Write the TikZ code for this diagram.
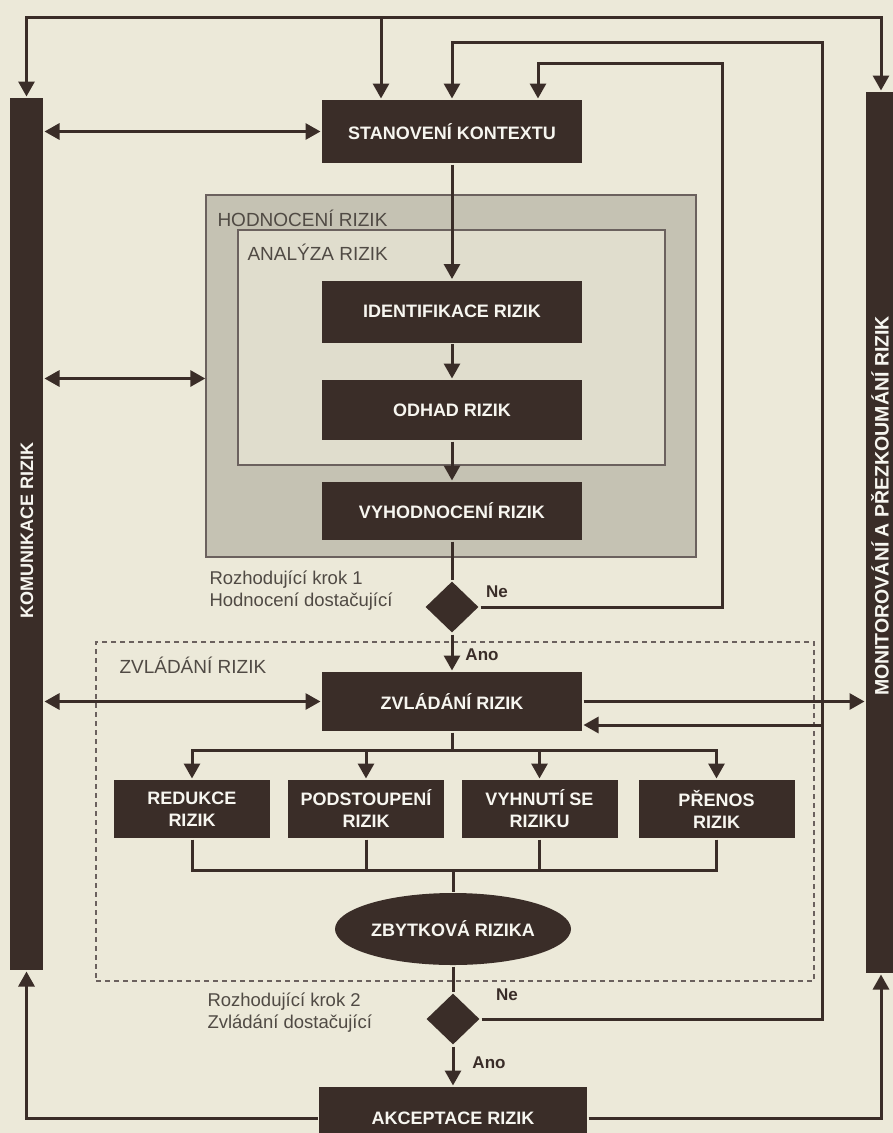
\documentclass[tikz,border=0pt]{standalone}
\usepackage{fontspec}
\setmainfont{Liberation Sans}
\usetikzlibrary{arrows.meta,shapes.geometric}
\definecolor{paper}{RGB}{236,233,217}
\definecolor{dark}{RGB}{58,45,40}
\definecolor{greybox}{RGB}{197,194,179}
\definecolor{lightbox}{RGB}{224,221,205}
\definecolor{labeltext}{RGB}{80,74,68}

\begin{document}
\begin{tikzpicture}[x=1pt, y=-1pt, line width=3pt, color=dark,
  >={Triangle[length=15pt,width=16pt]},
  box/.style = {fill=dark, text=paper!40!white, minimum width=260pt, minimum height=60pt, inner sep=0pt, align=center, font=\fontsize{18}{22}\selectfont\bfseries},
  small/.style = {box, minimum width=156pt, minimum height=58pt},
  bar/.style = {fill=dark, minimum width=33pt, inner sep=0pt},
  barlabel/.style = {text=paper!40!white, rotate=90, inner sep=0pt, font=\fontsize{18}{22}\selectfont\bfseries},
  area/.style = {draw=dark!75, line width=1.4pt, inner sep=0pt},
  title/.style = {anchor=west, inner sep=0pt, text=labeltext, font=\fontsize{19}{22}\selectfont},
  note/.style = {anchor=west, inner sep=0pt, text=labeltext, align=left, font=\fontsize{18.5}{22}\selectfont},
  yn/.style = {inner sep=0pt, text=dark, font=\fontsize{17}{20}\selectfont\bfseries},
  check/.style = {diamond, fill=dark, minimum width=54pt, minimum height=52pt, inner sep=0pt}]
  \clip (0,0) rectangle (893,1133);
  \fill[paper] (0,0) rectangle (893,1133);

  \node[bar, minimum height=872pt] (kom) at (26.5,534) {};
  \node[bar, minimum height=881pt, minimum width=30pt] (mon) at (881,532.5) {};
  \node[barlabel] (komt) at (27,530) {KOMUNIKACE RIZIK};
  \node[barlabel, font=\fontsize{19.5}{22}\selectfont\bfseries] (mont) at (880,506) {MONITOROVÁNÍ A PŘEZKOUMÁNÍ RIZIK};

  \node[area, fill=greybox, minimum width=490pt, minimum height=362pt] (hod) at (451,376) {};
  \node[area, fill=lightbox, minimum width=427pt, minimum height=235pt] (ana) at (451.5,347.5) {};
  \node[area, dashed, dash pattern=on 5pt off 4pt, line width=1.2pt, minimum width=718pt, minimum height=339pt] (zarea) at (455,811.5) {};
  \node[title] (hodt) at (216,218) {HODNOCENÍ RIZIK};
  \node[title] (anat) at (246,252) {ANALÝZA RIZIK};
  \node[title] (zart) at (118,665) {ZVLÁDÁNÍ RIZIK};

  \node[box, minimum height=63pt] (stan) at (452,131.5) {STANOVENÍ KONTEXTU};
  \node[box, minimum height=62pt] (iden) at (452,311.5) {IDENTIFIKACE RIZIK};
  \node[box] (odhad) at (452,410) {ODHAD RIZIK};
  \node[box, minimum height=58pt] (vyh) at (452,511) {VYHODNOCENÍ RIZIK};
  \node[check] (dec1) at (452,607) {};
  \node[box, minimum height=59pt] (zvl) at (452,701.5) {ZVLÁDÁNÍ RIZIK};
  \node[small] (red) at (192,809) {REDUKCE\\RIZIK};
  \node[small] (pod) at (366,809) {PODSTOUPENÍ\\RIZIK};
  \node[small] (vyhs) at (539.5,809) {VYHNUTÍ SE\\RIZIKU};
  \node[small] (pre) at (716.5,809) {PŘENOS\\RIZIK};
  \node[box, ellipse, minimum width=236pt, minimum height=72pt] (zby) at (453,929) {ZBYTKOVÁ RIZIKA};
  \node[check] (dec2) at (453,1019) {};
  \node[box, minimum width=268pt, minimum height=62pt] (akc) at (453,1118) {AKCEPTACE RIZIK};

  \node[note] (krok1) at (208,591) {Rozhodující krok 1\\Hodnocení dostačující};
  \node[note] (krok2) at (206,1013) {Rozhodující krok 2\\Zvládání dostačující};
  \node[yn] (ne1) at (497,592) {Ne};
  \node[yn] (ano1) at (482,655) {Ano};
  \node[yn] (ne2) at (507,995) {Ne};
  \node[yn] (ano2) at (489,1063) {Ano};

  \coordinate (top) at (381,17);
  \coordinate (up1) at (722,63);
  \coordinate (up2) at (822,42);
  \coordinate (back) at (822,725);
  \coordinate (split) at (452,750);
  \coordinate (join) at (453,870);

  \draw[<->] (kom.north) |- (top -| mon.north) -- (mon.north);
  \draw[->] (top) -- (top |- stan.north);
  \draw[->] (dec1.east) -| (up1) -| ([xshift=86pt]stan.north);
  \draw[->] (dec2.east) -| (up2) -| (stan.north);
  \draw[->] (back) -- (back -| zvl.east);

  \draw[<->] (kom.east |- stan) -- (stan);
  \draw[<->] (kom.east |- odhad.north) -- (hod.west |- odhad.north);
  \draw[<->] (kom.east |- zvl) -- (zvl);
  \draw[->] (zvl.east) -- (zvl -| mon.west);

  \draw[->] (stan) -- (iden);
  \draw[->] (iden) -- (odhad);
  \draw[->] (odhad) -- (vyh);
  \draw (vyh) -- (dec1);
  \draw[->] (dec1) -- (zvl);
  \draw (zvl) -- (split);
  \foreach \n in {red,pod,vyhs,pre} {
    \draw[->] (split) -| (\n);
    \draw (\n) |- (join);
  }
  \draw (join) -- (zby);
  \draw (zby) -- (dec2);
  \draw[->] (dec2) -- (akc);

  \draw[->] (akc.west) -| (kom.south);
  \draw[->] (akc.east) -| (mon.south);
\end{tikzpicture}
\end{document}
